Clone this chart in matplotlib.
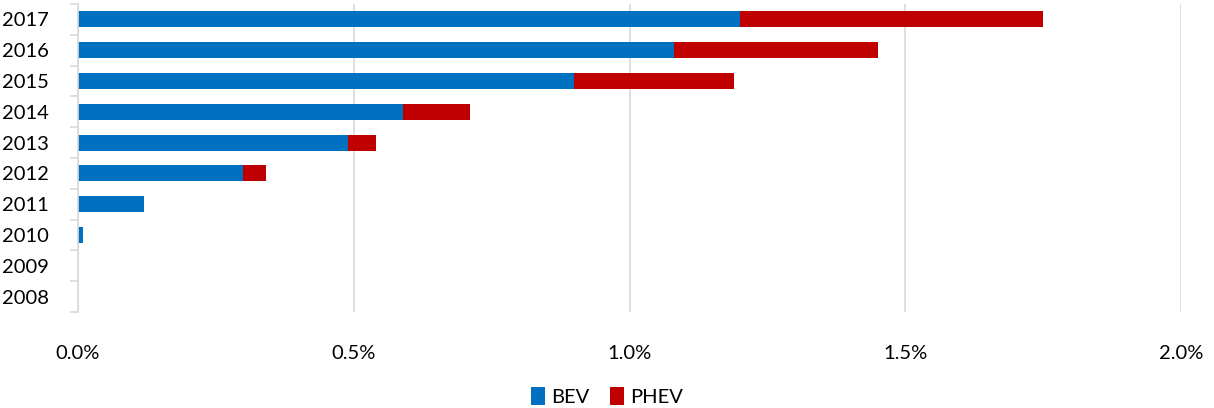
import numpy as np
import matplotlib
matplotlib.use("Agg")
import matplotlib.pyplot as plt
from matplotlib.ticker import PercentFormatter, FixedLocator

plt.rcParams['font.family'] = ['Lato', 'DejaVu Sans']
plt.rcParams['font.size'] = 14.5

# market share of plug-in cars (% of new registrations)
years = ['2008', '2009', '2010', '2011', '2012', '2013', '2014', '2015', '2016', '2017']
bev = [0.0, 0.0, 0.009, 0.12, 0.30, 0.49, 0.59, 0.90, 1.08, 1.20]
phev = [0.0, 0.0, 0.0, 0.0, 0.04, 0.05, 0.12, 0.29, 0.37, 0.55]

fig = plt.figure(figsize=(12.14, 4.08), dpi=100)
ax = fig.add_axes([78/1214, 1 - 312/408, (1181 - 78)/1214, (312 - 4)/408])

pos = np.arange(len(years))
h = 0.52
ax.barh(pos, bev, h, color='#0070C0', label='BEV')
ax.barh(pos, phev, h, left=bev, color='#C00000', label='PHEV')

ax.set_xlim(0, 2.0)
ax.set_ylim(-0.5, len(years) - 0.5)
ax.set_xticks([0, 0.5, 1.0, 1.5, 2.0])
ax.xaxis.set_major_formatter(PercentFormatter(decimals=1))
ax.xaxis.grid(True, color='#d9d9d9', linewidth=1.2)
ax.set_axisbelow(True)
ax.tick_params(axis='x', length=0, pad=24)

ax.set_yticks(pos)
ax.set_yticklabels(years)
ax.yaxis.set_minor_locator(FixedLocator(np.arange(-0.5, len(years), 1)))
ax.tick_params(axis='y', which='major', length=0, pad=21)
ax.tick_params(axis='y', which='minor', length=6, color='#d9d9d9', width=1.2)

for s in ['top', 'right', 'bottom']:
    ax.spines[s].set_visible(False)
ax.spines['left'].set_color('#d9d9d9')
ax.spines['left'].set_linewidth(1.2)

fig.legend(loc='lower center', bbox_to_anchor=(0.5, -0.04), ncol=2, frameon=False,
           handlelength=0.7, handleheight=1.0, handletextpad=0.3, columnspacing=1.0)

fig.savefig('out.png', dpi=100)
